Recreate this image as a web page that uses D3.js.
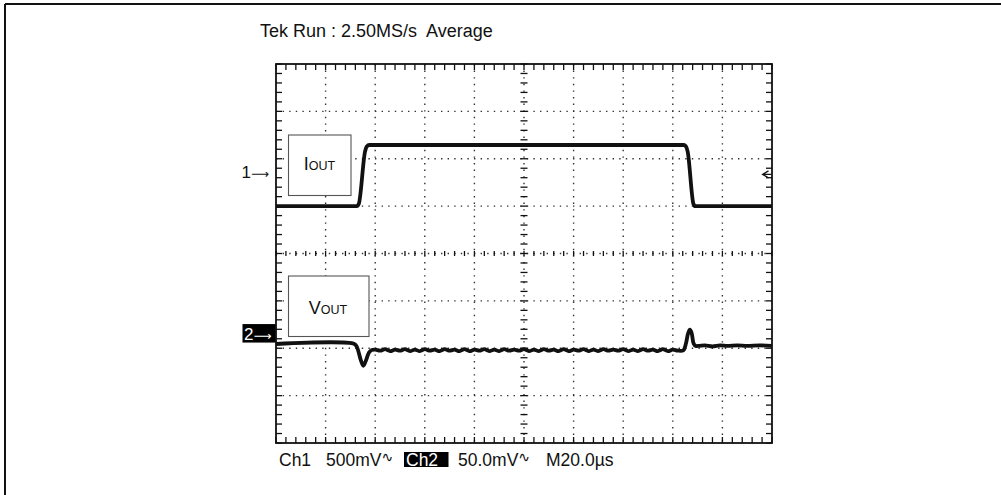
<!DOCTYPE html>
<html>
<head>
<meta charset="utf-8">
<script src="https://cdn.jsdelivr.net/npm/d3@7"></script>
<style>
  html, body { margin: 0; padding: 0; background: #fff; }
  svg { display: block; font-family: "Liberation Sans", Arial, Helvetica, sans-serif; }
  text { white-space: pre; }
</style>
</head>
<body>
<svg id="chart" width="1001" height="495"></svg>
<script>
// ---- data (time in µs, amplitude in screen divisions from centre) ----
const xDivisions = [0, 20, 40, 60, 80, 100, 120, 140, 160, 180, 200];
const yDivisions = [-4, -3, -2, -1, 0, 1, 2, 3, 4];
const headerText = "Tek Run : 2.50MS/s  Average";

const ch1Time = [0, 32.6, 33.4, 35.9, 36.6, 37.6, 164.4, 165.3, 166.0, 168.3, 169.0, 170.0, 200];
const ch1Div  = [1.0, 1.0, 1.05, 2.15, 2.26, 2.29, 2.29, 2.26, 2.15, 1.05, 1.0, 1.0, 1.0];

const ch2Time = [0, 31.6, 32.6, 34.2, 35.2, 36.2, 37.5, 38.5,
  40, 42, 44, 46, 48, 50, 52, 54, 56, 58, 60, 62, 64, 66, 68, 70, 72, 74, 76, 78,
  80, 82, 84, 86, 88, 90, 92, 94, 96, 98, 100, 102, 104, 106, 108, 110, 112, 114, 116, 118,
  120, 122, 124, 126, 128, 130, 132, 134, 136, 138, 140, 142, 144, 146, 148, 150, 152, 154,
  156, 158, 160, 162, 164.3, 165.3, 166.2, 166.9, 167.6, 168.4, 169.3,
  170.5, 173, 176, 179, 182, 186, 190, 195, 200];
const ch2Div = [-1.91, -1.91, -1.97, -2.25, -2.37, -2.27, -2.09, -2.04,
  -2.03, -2.05, -2.02, -2.06, -2.03, -2.05, -2.02, -2.06, -2.03, -2.06, -2.02, -2.05, -2.03, -2.06, -2.02, -2.05, -2.03, -2.06, -2.02, -2.06,
  -2.03, -2.05, -2.02, -2.06, -2.03, -2.06, -2.02, -2.05, -2.03, -2.05, -2.02, -2.06, -2.03, -2.06, -2.02, -2.05, -2.03, -2.06, -2.02, -2.06,
  -2.03, -2.05, -2.02, -2.06, -2.03, -2.06, -2.02, -2.05, -2.03, -2.05, -2.02, -2.06, -2.03, -2.06, -2.02, -2.05, -2.03, -2.06,
  -2.02, -2.06, -2.03, -2.05, -2.04, -1.90, -1.68, -1.61, -1.68, -1.90, -1.95,
  -1.95, -1.94, -1.96, -1.94, -1.95, -1.94, -1.95, -1.94, -1.95];

const ch1Marker = 1.72;   // "1→" ground marker, divisions
const ch2Marker = -1.69;  // "2→" ground marker, divisions
const trigLevel = 1.67;   // trigger level arrow on the right

const footer = [
  {t: "Ch1", x: 279},
  {t: "500mV", x: 326, ac: true},
  {t: "Ch2", x: 406, inv: true},
  {t: "50.0mV", x: 458, ac: true},
  {t: "M20.0\u00b5s", x: 546}
];

// ---- layout ----
const svg = d3.select("#chart");
const x = d3.scaleLinear().domain([0, 200]).range([276, 772]);
const y = d3.scaleLinear().domain([-4, 4]).range([443, 64]);
const ink = "#111";
const fs = 18;

// outer frame (top & left edges)
svg.append("path").attr("d", "M5,4 H1001 M5,4 V495")
  .attr("fill", "none").attr("stroke", ink).attr("stroke-width", 2);

// header
svg.append("text").attr("x", 260).attr("y", 37).attr("font-size", fs)
  .attr("fill", ink).text(headerText);

const g = svg.append("g");

// dotted graticule
const dot = "1.4,5.2";
xDivisions.slice(1, -1).forEach(d => {
  g.append("line").attr("x1", x(d)).attr("x2", x(d)).attr("y1", y(4)).attr("y2", y(-4))
    .attr("stroke", "#333").attr("stroke-width", 1.4).attr("stroke-dasharray", dot);
});
yDivisions.slice(1, -1).forEach(d => {
  g.append("line").attr("y1", y(d)).attr("y2", y(d)).attr("x1", x(0)).attr("x2", x(200))
    .attr("stroke", "#333").attr("stroke-width", 1.4).attr("stroke-dasharray", dot);
});

// minor ticks on edges and centre cross
const xMinor = d3.range(0, 200.01, 4);
const yMinor = d3.range(-4, 4.01, 0.2);
const tk = g.append("g").attr("stroke", ink).attr("stroke-width", 1.3);
xMinor.forEach(t => {
  tk.append("line").attr("x1", x(t)).attr("x2", x(t)).attr("y1", y(4)).attr("y2", y(4) + 6);
  tk.append("line").attr("x1", x(t)).attr("x2", x(t)).attr("y1", y(-4)).attr("y2", y(-4) - 6);
  tk.append("line").attr("x1", x(t)).attr("x2", x(t)).attr("y1", y(0) - 2.5).attr("y2", y(0) + 2.5);
});
yMinor.forEach(v => {
  tk.append("line").attr("y1", y(v)).attr("y2", y(v)).attr("x1", x(0)).attr("x2", x(0) + 6);
  tk.append("line").attr("y1", y(v)).attr("y2", y(v)).attr("x1", x(200)).attr("x2", x(200) - 6);
  tk.append("line").attr("y1", y(v)).attr("y2", y(v)).attr("x1", x(100) - 3.5).attr("x2", x(100) + 3.5);
});

// frame of graticule
g.append("rect").attr("x", x(0)).attr("y", y(4)).attr("width", x(200) - x(0)).attr("height", y(-4) - y(4))
  .attr("fill", "none").attr("stroke", ink).attr("stroke-width", 1.8);

// label boxes
function labelBox(x0, y0, w, h, big, small, cx, base) {
  svg.append("rect").attr("x", x0).attr("y", y0).attr("width", w).attr("height", h)
    .attr("fill", "#fff").attr("stroke", "#555").attr("stroke-width", 1.1);
  const t = svg.append("text").attr("x", cx).attr("y", base).attr("text-anchor", "middle").attr("fill", ink);
  t.append("tspan").attr("font-size", 18).text(big);
  t.append("tspan").attr("font-size", 12.5).text(small);
}
labelBox(288.5, 135, 62.5, 60.5, "I", "OUT", 319.5, 169.5);
labelBox(288.5, 276, 80.5, 60.5, "V", "OUT", 328, 313.5);

// traces
const line = d3.line().x(d => x(d[0])).y(d => y(d[1])).curve(d3.curveMonotoneX);
svg.append("path").datum(ch1Time.map((t, i) => [t, ch1Div[i]]))
  .attr("d", line).attr("fill", "none").attr("stroke", ink).attr("stroke-width", 3.8)
  .attr("stroke-linejoin", "round");
const line2 = d3.line().x(d => x(d[0])).y(d => y(d[1])).curve(d3.curveCatmullRom.alpha(0.5));
svg.append("path").datum(ch2Time.map((t, i) => [t, ch2Div[i]]))
  .attr("d", line2).attr("fill", "none").attr("stroke", ink).attr("stroke-width", 3.8)
  .attr("stroke-linejoin", "round");

// channel markers
const m1 = svg.append("text").attr("x", 241.5).attr("y", y(ch1Marker) + 5.5).attr("font-size", 17).attr("fill", ink);
m1.append("tspan").text("1");
m1.append("tspan").attr("font-family", "DejaVu Sans").attr("font-size", 12.5).text("\u27f6");
svg.append("rect").attr("x", 242.5).attr("y", y(ch2Marker) - 9.5).attr("width", 33).attr("height", 18.5).attr("fill", "#000");
const m2 = svg.append("text").attr("x", 244).attr("y", y(ch2Marker) + 6).attr("font-size", 17).attr("fill", "#fff");
m2.append("tspan").text("2");
m2.append("tspan").attr("font-family", "DejaVu Sans").attr("font-size", 12.5).text("\u27f6");

// trigger level arrow
const ty = y(trigLevel);
svg.append("path").attr("d", `M768.5,${ty - 3.5} L762.5,${ty} L768.5,${ty + 3.5} M762.5,${ty} H771`)
  .attr("fill", "none").attr("stroke", ink).attr("stroke-width", 1.2);

// footer
footer.forEach(f => {
  if (f.inv) {
    svg.append("rect").attr("x", f.x - 2).attr("y", 452).attr("width", 44.5).attr("height", 15).attr("fill", "#000");
  }
  const t = svg.append("text").attr("x", f.x).attr("y", 466).attr("font-size", 17.5)
    .attr("fill", f.inv ? "#fff" : ink);
  t.append("tspan").text(f.t);
  if (f.ac) {
    t.append("tspan").attr("font-family", "DejaVu Sans").attr("font-size", 14).attr("dy", -4).text("\u223f");
  }
});
</script>
</body>
</html>
